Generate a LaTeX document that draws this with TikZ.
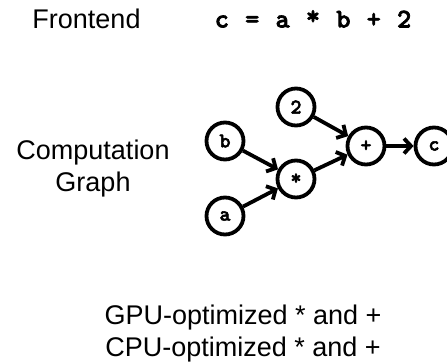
\documentclass[tikz,border=0pt]{standalone}
\usepackage{fontspec}
\setmainfont{Liberation Sans}
\newfontfamily\codefont[LetterSpace = 7.5, FakeBold = 2.5]{lmmonolt10-bold.otf}
\usetikzlibrary{arrows.meta}
\usetikzlibrary{shapes}

\begin{document}
\begin{tikzpicture}[x = 1pt, y = -1pt]
	\tikzstyle{EdgeStyle} = [line width = 3.8pt, -{Straight Barb[length = 7pt, width = 15pt, line width = 3.8pt]}]
	\tikzstyle{opStyle} = [shape = circle, minimum size = 37pt, inner sep = 0pt, line width = 3.8pt, draw,
		font = \codefont\fontsize{21}{21}\selectfont]
	\tikzstyle{textStyle} = [align = center, font = \fontsize{27}{32}\selectfont]
	\useasboundingbox (0, 0) rectangle (447, 364);
	\node[textStyle] (frontend) at (86.5, 19) {Frontend};
	\node[textStyle, font = \codefont\fontsize{27}{32}\selectfont] (expr) at (313, 19) {c = a \raisebox{3pt}{*} b + 2};
	\node[textStyle] (graph) at (93, 169) {Computation\\Graph};
	\node[textStyle] (kernels) at (243, 334) {GPU-optimized * and +\\CPU-optimized * and +};
	\node[opStyle] (v2) at (296, 107) {2};
	\node[opStyle] (vb) at (225, 141) {b};
	\node[opStyle] (va) at (225, 216) {a};
	\node[opStyle] (vmul) at (296, 179) {*};
	\node[opStyle] (vadd) at (366, 146) {+};
	\node[opStyle] (vc) at (434, 146) {c};
	\draw[EdgeStyle] (vb) -- (vmul);
	\draw[EdgeStyle] (va) -- (vmul);
	\draw[EdgeStyle] (v2) -- (vadd);
	\draw[EdgeStyle] (vmul) -- (vadd);
	\draw[EdgeStyle] (vadd) -- (vc);
\end{tikzpicture}
\end{document}
